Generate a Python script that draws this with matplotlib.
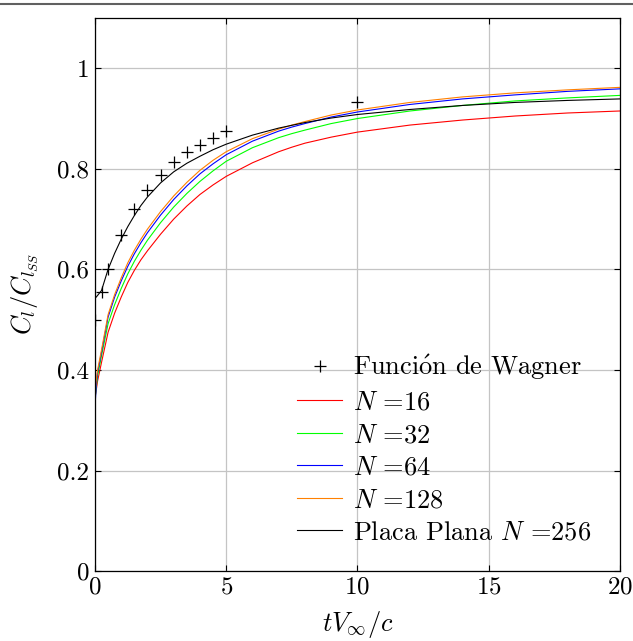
import matplotlib
matplotlib.use('Agg')
import matplotlib.pyplot as plt
from matplotlib.lines import Line2D
from matplotlib.ticker import FuncFormatter

plt.rcParams['font.family'] = ['cmr10', 'DejaVu Serif']
plt.rcParams['mathtext.fontset'] = 'cm'
plt.rcParams['axes.formatter.use_mathtext'] = True
plt.rcParams['font.size'] = 18

# Wagner function (reference)
wagner_t = [0, 0.25, 0.5, 1, 1.5, 2, 2.5, 3, 3.5, 4, 4.5, 5, 10]
wagner_cl = [0.5, 0.555, 0.6, 0.669, 0.72, 0.758, 0.787, 0.813, 0.833, 0.848, 0.862, 0.875, 0.932]

# lift ratio for each panel count
t_n = [0, 0.05, 0.1, 0.25, 0.5, 0.75, 1, 1.25, 1.5, 1.75, 2, 2.5, 3, 3.5, 4, 4.5, 5,
       6, 7, 7.5, 8, 9, 10, 12, 14, 16, 18, 20]
cl_16 = [0.345, 0.36, 0.378, 0.415, 0.475, 0.513, 0.545, 0.574, 0.598, 0.619, 0.637, 0.670,
         0.700, 0.726, 0.749, 0.768, 0.785, 0.812, 0.834, 0.843, 0.851, 0.863, 0.873, 0.887,
         0.897, 0.905, 0.911, 0.915]
cl_32 = [0.34, 0.365, 0.388, 0.428, 0.492, 0.53, 0.562, 0.591, 0.616, 0.638, 0.658, 0.693,
         0.724, 0.751, 0.775, 0.796, 0.815, 0.842, 0.862, 0.870, 0.877, 0.890, 0.900, 0.915,
         0.926, 0.935, 0.941, 0.946]
cl_64 = [0.325, 0.37, 0.395, 0.435, 0.505, 0.545, 0.577, 0.606, 0.631, 0.653, 0.673, 0.708,
         0.739, 0.766, 0.790, 0.810, 0.828, 0.855, 0.875, 0.883, 0.890, 0.903, 0.913, 0.928,
         0.939, 0.947, 0.954, 0.959]
cl_128 = [0.355, 0.38, 0.40, 0.44, 0.51, 0.55, 0.583, 0.613, 0.638, 0.66, 0.68, 0.715,
          0.746, 0.773, 0.797, 0.817, 0.834, 0.86, 0.879, 0.887, 0.894, 0.907, 0.917, 0.932,
          0.943, 0.951, 0.957, 0.962]

# flat plate, N = 256
t_plate = [0.05, 0.25, 0.5, 0.75, 1, 1.25, 1.5, 1.75, 2, 2.5, 3, 3.5, 4, 4.5, 5,
           6, 7, 8, 9, 10, 12, 14, 16, 18, 20]
cl_plate = [0.545, 0.558, 0.6, 0.632, 0.66, 0.685, 0.707, 0.727, 0.744, 0.772, 0.794, 0.811,
            0.825, 0.838, 0.849, 0.867, 0.881, 0.892, 0.901, 0.908, 0.918, 0.926, 0.932,
            0.936, 0.939]

fig = plt.figure(figsize=(6.33, 6.41), dpi=100)
ax = fig.add_axes([0.150, 0.109, 0.8295, 0.863])

ax.plot(wagner_t, wagner_cl, '+', color='black', markersize=9, markeredgewidth=0.9,
        label=r'Funci$\acute{\rm o}$n de Wagner')
ax.plot(t_n, cl_16, color='red', lw=0.8, label=r'$N$ =16')
ax.plot(t_n, cl_32, color='#00ff00', lw=0.8, label=r'$N$ =32')
ax.plot(t_n, cl_64, color='blue', lw=0.8, label=r'$N$ =64')
ax.plot(t_n, cl_128, color='#ff8000', lw=0.8, label=r'$N$ =128')
ax.plot(t_plate, cl_plate, color='black', lw=0.8, label=r'Placa Plana $N$ =256')

ax.set_xlim(0, 20)
ax.set_ylim(0, 1.1)
ax.set_xticks([0, 5, 10, 15, 20])
ax.set_yticks([0, 0.2, 0.4, 0.6, 0.8, 1])
ax.yaxis.set_major_formatter(FuncFormatter(lambda v, p: '%g' % v))
ax.grid(True, color='#c4c4c4', lw=0.9)
ax.set_axisbelow(True)
ax.tick_params(direction='in', top=True, right=True, length=4, width=0.8, labelsize=18,
               pad=4)
for s in ax.spines.values():
    s.set_linewidth(0.9)

ax.set_xlabel(r'$tV_\infty/c$', fontsize=19, labelpad=7)
ax.set_ylabel(r'$C_l/C_{l_{SS}}$', fontsize=19, labelpad=12)

ax.legend(loc='lower right', bbox_to_anchor=(0.985, 0.01), frameon=False,
          fontsize=19, handlelength=1.7, labelspacing=0.33, handletextpad=0.4,
          borderpad=0.3)

# rule across the top of the page
fig.add_artist(Line2D([0, 1], [0.994, 0.994], color='#606060', lw=1.5))

fig.savefig('out.png', dpi=100)
